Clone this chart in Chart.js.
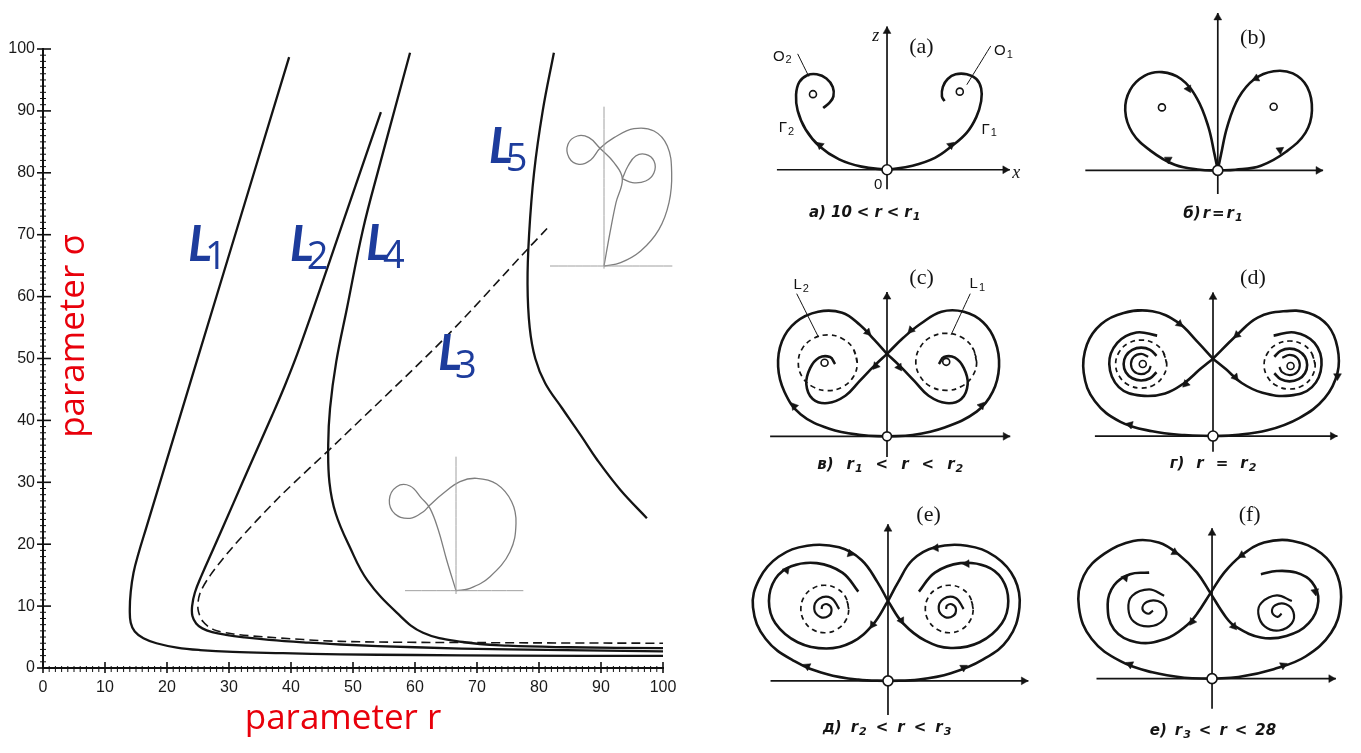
<!DOCTYPE html>
<html>
<head>
<meta charset="utf-8">
<title>Lorenz system: bifurcation curves and phase portraits</title>
<script src="https://cdn.jsdelivr.net/npm/chart.js@4.4.1/dist/chart.umd.min.js"></script>
<style>
  html, body { margin: 0; padding: 0; background: #fff; }
  body { position: relative; width: 1361px; height: 753px; overflow: hidden; }
  canvas { position: absolute; }
</style>
</head>
<body>
<canvas id="main" width="700" height="753" style="left:0;top:0"></canvas>
<canvas id="insetTop" width="360" height="340" style="left:330px;top:30px"></canvas>
<canvas id="insetLow" width="340" height="380" style="left:330px;top:360px"></canvas>
<canvas id="pa" width="310" height="240" style="left:740px;top:0"></canvas>
<canvas id="pb" width="311" height="240" style="left:1050px;top:0"></canvas>
<canvas id="pc" width="310" height="250" style="left:740px;top:240px"></canvas>
<canvas id="pd" width="311" height="250" style="left:1050px;top:240px"></canvas>
<canvas id="pe" width="310" height="263" style="left:740px;top:490px"></canvas>
<canvas id="pf" width="311" height="263" style="left:1050px;top:490px"></canvas>
<script>
// ---------- (r, sigma) plane ----------
const curveL1 = [[39.7,98.7],[28,60.1],[20,33.7],[16.7,22.8],[15.4,18.5],[14.6,15.4],[14.15,12.3],[14,9.5],[14.15,7.3],[14.8,5.9],[16.2,4.8],[18.3,4.0],[21.6,3.3],[25.3,2.9],[30.6,2.6],[38.7,2.4],[48,2.2],[60,2.1],[75,2.0],[100,1.95]];
const curveL2 = [[54.5,89.8],[50.4,77.9],[46.3,65.9],[43.2,56.9],[41,50.7],[39,45.6],[37,40.9],[33.5,33],[30.7,26.6],[27.5,19.3],[25.6,15],[24.5,12.2],[24.05,10],[24.1,8.4],[24.7,7.2],[25.7,6.4],[27.3,5.8],[29.5,5.35],[32.5,4.95],[36.5,4.55],[42,4.15],[48,3.8],[60,3.35],[75,3.0],[100,2.7]];
const curveL3 = [[81.3,71],[78,67.5],[65,53.5],[48,37],[38,27.5],[31,20],[27,15],[25.3,12],[25,9.5],[25.8,7.5],[27.5,6.2],[30.7,5.5],[36,5],[48,4.3],[70,4.1],[100,4.0]];
const curveL4 = [[59.2,99.4],[56.8,90.5],[54.4,81.6],[51.6,70.8],[49,58],[47.3,49.5],[46.3,42],[46,36],[46.2,30],[47.2,25],[49.5,19.5],[52.3,14.2],[57.1,8.9],[61.3,5.7],[67.7,4.2],[75,3.6],[85,3.35],[100,3.2]];
const curveL5 = [[82.4,99.4],[80.6,90],[79.2,80],[78.4,70],[78.15,62],[78.5,55],[79.4,50],[81,46],[83.7,42],[86.8,37.5],[89.4,33.6],[93.1,28.8],[97.4,24.2]];
// label index, r, sigma (glyph baseline)
const curveTags = [['1',23.4,65.75],['2',39.8,65.75],['4',52.1,65.9],['5',71.9,81.6],['3',63.7,48.1]];

// ---------- small sketches inside the plane (units: 1/3 px, origin at O) ----------
const upAxisV = [[0,-8],[0,478]];
const upAxisH = [[-162,0],[205,0]];
const upPath = [[0,0],[18,100],[36,190],[55,262],[30,310],[-12,353],[-45,385],[-80,390],[-108,365],[-105,325],[-75,305],[-40,318],[-12,353],[30,385],[90,412],[150,405],[190,360],[203,280],[195,190],[165,110],[110,45],[50,10],[0,0]];
const upLoop = [[55,262],[85,250],[125,255],[150,280],[150,315],[125,335],[95,330],[72,300],[55,262]];
const lowAxisV = [[0,-10],[0,402]];
const lowAxisH = [[-153,0],[202,0]];
const lowPath = [[0,0],[-28,92],[-53,182],[-78,247],[-103,277],[-138,314],[-178,312],[-200,272],[-183,230],[-138,217],[-98,237],[-78,257],[-38,292],[12,327],[62,337],[122,320],[167,267],[180,202],[162,117],[102,42],[42,7],[0,0]];

// ---------- phase portraits (x, z), units 1/3 px, origin at O ----------
// arrows: [x, z, heading in degrees clockwise from up]
// texts: [string, x, z, style, word gap]; "_c" sets c as a subscript
const aAxisX = [[-345,0],[385,0]];
const aAxisZ = [[0,-62],[0,455]];
const aGamma1 = [[0,0],[80,13],[150,38],[200,73],[250,118],[280,168],[295,218],[295,258],[280,288],[250,303],[215,303],[190,288],[175,263],[172,233],[180,218]];
const aGamma2 = [[0,0],[-80,10],[-150,33],[-210,73],[-255,128],[-280,188],[-285,238],[-275,278],[-250,300],[-220,303],[-190,290],[-170,263],[-168,233],[-180,213],[-200,196]];
const aLeader1 = [[325,393],[250,270]];
const aLeader2 = [[-280,368],[-245,296]];
const aArrows = [[370,0,90],[0,440,0],[200,78,50],[-210,78,310]];
const aFoci = [[228,248],[-232,240]];
const aTexts = [['z',-35,423,'it'],['x',405,-12,'it'],['0',-28,-47,'lab'],['O_2',-328,360,'lab'],['O_1',365,378,'lab'],['Γ_2',-315,133,'lab'],['Γ_1',320,128,'lab'],['(a)',108,388,'tag'],['а) 10 < r < r_1',-70,-137,'cap',5]];

const bAxisX = [[-415,0],[330,0]];
const bAxisZ = [[0,-75],[0,500]];
const bLoopR = [[0,0],[10,50],[30,140],[65,230],[115,290],[175,315],[235,308],[280,265],[295,190],[275,120],[215,60],[135,15],[55,2],[0,0]];
const bLoopL = [[0,0],[-10,50],[-30,140],[-65,228],[-115,290],[-175,312],[-230,300],[-275,255],[-290,190],[-268,120],[-210,62],[-135,18],[-55,2],[0,0]];
const bArrows = [[315,0,90],[0,485,0],[120,292,245],[195,65,55],[-92,259,150],[-155,35,300]];
const bFoci = [[-175,200],[175,202]];
const bTexts = [['(b)',110,420,'tag'],['б) r = r_1',-15,-140,'cap',2]];

const cAxisX = [[-365,0],[385,0]];
const cAxisZ = [[0,-65],[0,455]];
const cOuterR = [[0,0],[80,4],[180,28],[280,78],[330,140],[350,220],[338,300],[300,360],[240,393],[170,393],[105,355],[50,310],[0,260]];
const cOuterL = [[0,0],[-80,4],[-180,24],[-270,70],[-320,140],[-340,220],[-328,300],[-285,360],[-215,393],[-140,390],[-85,352],[-40,305],[0,260]];
const cInnerL = [[0,260],[-40,222],[-85,175],[-130,128],[-185,105],[-232,118],[-252,165],[-240,215],[-212,248],[-178,250],[-162,228]];
const cInnerR = [[0,260],[40,222],[85,175],[130,128],[185,105],[232,118],[252,165],[240,215],[212,248],[178,250],[162,228]];
const cCycleL = [[-93,232],[-105,276],[-139,308],[-185,320],[-231,308],[-265,276],[-277,232],[-265,188],[-231,156],[-185,144],[-139,156],[-105,188],[-93,232],[-105,276]];
const cCycleR = [[280,235],[267,280],[232,313],[185,325],[137,313],[103,280],[90,235],[103,190],[137,157],[185,145],[232,157],[267,190],[280,235],[267,280]];
const cLeader1 = [[260,450],[200,320]];
const cLeader2 = [[-282,450],[-215,315]];
const cArrows = [[370,0,90],[0,440,0],[295,97,40],[75,335,225],[-60,328,135],[-35,222,220],[38,218,145],[-290,95,320]];
const cFoci = [[-195,232],[185,235]];
const cTexts = [['L_2',-268,478,'lab'],['L_1',282,480,'lab'],['(c)',108,500,'tag'],['в) r_1 < r < r_2',10,-90,'cap',13]];

const dAxisX = [[-370,0],[390,0]];
const dAxisZ = [[0,-50],[0,455]];
const dOuterR = [[0,0],[70,3],[170,18],[270,57],[350,120],[390,200],[390,280],[360,350],[300,390],[220,395],[140,375],[75,320],[0,245]];
const dOuterL = [[0,0],[-90,3],[-190,15],[-290,45],[-370,110],[-405,200],[-395,290],[-350,355],[-280,390],[-190,395],[-110,360],[-50,300],[0,245]];
const dInnerL = [[0,245],[-40,212],[-90,168],[-150,135],[-225,128],[-295,155],[-325,228],[-300,295],[-240,328],[-175,318]];
const dInnerR = [[0,245],[40,212],[90,168],[155,137],[240,128],[310,155],[340,225],[318,295],[255,328],[190,318]];
const dCycleL = [[-145,228],[-156,266],[-185,294],[-225,304],[-265,294],[-294,266],[-305,228],[-294,190],[-265,162],[-225,152],[-185,162],[-156,190],[-145,228],[-156,266]];
const dCycleR = [[320,225],[309,263],[280,291],[240,301],[200,291],[171,263],[160,225],[171,187],[200,159],[240,149],[280,159],[309,187],[320,225],[309,263]];
const dArcL = [[-177,254],[-197,273],[-225,280],[-253,273],[-273,254],[-280,228],[-273,202],[-253,183],[-225,176],[-197,183],[-177,202]];
const dArcR = [[192,251],[212,270],[240,277],[268,270],[288,251],[295,225],[288,199],[268,180],[240,173],[212,180],[192,199]];
const dCurlL = [[-203,251],[-225,260],[-248,251],[-257,228],[-248,205],[-225,196],[-203,205],[-195,222]];
const dCurlR = [[217,248],[240,257],[263,248],[272,225],[263,202],[240,193],[217,202],[208,219]];
const dArrows = [[375,0,90],[0,440,0],[-105,355,130],[75,320,230],[-85,165,225],[70,186,140],[-260,36,285],[390,190,180]];
const dFoci = [[-220,228],[243,222]];
const dTexts = [['(d)',125,500,'tag'],['г) r = r_2',0,-90,'cap',12]];

const eAxisX = [[-368,0],[440,0]];
const eAxisZ = [[0,-108],[0,495]];
const eOuterL = [[0,0],[-93,4],[-193,22],[-293,62],[-383,132],[-423,232],[-403,322],[-343,392],[-253,427],[-153,422],[-83,382],[-33,312],[0,252]];
const eOuterR = [[0,0],[97,4],[197,24],[297,67],[377,132],[412,232],[397,322],[337,392],[247,427],[147,422],[77,382],[32,312],[0,252]];
const eInnerL = [[0,252],[-48,177],[-113,122],[-193,102],[-283,122],[-353,182],[-373,252],[-353,322],[-303,362],[-223,372],[-143,342],[-93,282]];
const eInnerR = [[0,252],[47,182],[117,127],[197,104],[287,122],[357,182],[377,252],[357,322],[307,362],[227,372],[147,342],[97,282]];
const eCycleL = [[-123,227],[-133,265],[-161,292],[-198,302],[-236,292],[-263,265],[-273,227],[-263,190],[-236,162],[-198,152],[-161,162],[-133,190],[-123,227],[-133,265]];
const eCycleR = [[267,227],[257,265],[230,292],[192,302],[155,292],[127,265],[117,227],[127,190],[155,162],[192,152],[230,162],[257,190],[267,227],[257,265]];
const eSpiralL = [[-153,227],[-178,262],[-216,259],[-231,227],[-212,202],[-186,205],[-177,227],[-190,242],[-205,238],[-208,227]];
const eSpiralR = [[237,227],[212,262],[174,259],[159,227],[178,202],[204,205],[213,227],[200,242],[185,238],[182,227]];
const eArrows = [[425,0,90],[0,480,0],[-118,402,105],[-253,46,295],[150,420,265],[237,42,60],[-48,177,215],[42,190,150],[-318,350,40],[247,370,268]];
const eTexts = [['(e)',127,522,'tag'],['д) r_2 < r < r_3',-3,-148,'cap',9]];

const fAxisX = [[-362,0],[388,0]];
const fAxisZ = [[0,-95],[0,475]];
const fOuterL = [[0,0],[-87,3],[-187,20],[-287,55],[-377,125],[-417,225],[-402,325],[-337,395],[-247,435],[-167,430],[-102,390],[-47,335],[-5,270]];
const fOuterR = [[0,0],[83,5],[193,30],[293,70],[373,145],[403,235],[393,325],[343,395],[253,435],[163,430],[93,390],[38,335],[-5,270]];
const fInnerL = [[-5,270],[-47,205],[-77,170],[-147,125],[-237,115],[-307,155],[-327,235],[-307,295],[-257,330],[-197,335]];
const fInnerR = [[-5,270],[43,195],[73,165],[153,130],[233,135],[303,175],[333,245],[313,305],[263,335],[203,340],[153,330]];
const fSpiralL = [[-150,262],[-197,282],[-250,262],[-262,220],[-245,180],[-197,165],[-152,185],[-145,222],[-170,245],[-205,242],[-218,220],[-200,205],[-185,215]];
const fSpiralR = [[250,245],[203,263],[155,240],[145,205],[165,165],[210,152],[250,175],[255,210],[232,235],[198,232],[188,210],[205,195],[218,205]];
const fArrows = [[373,0,90],[0,460,0],[-117,399,120],[-257,45,295],[93,390,240],[223,42,65],[-62,180,215],[68,165,140],[-272,319,40],[323,275,170]];
const fTexts = [['(f)',118,515,'tag'],['е) r_3 < r < 28',3,-165,'cap',8]];

// ---------- styling ----------
const INK = '#141414';
const GREY = '#7e7e7e';
const RED = '#e8000b';
const BLUE = '#1d3c9c';
const STYLES = {
  it:  { font: 'italic 18px "Liberation Serif"', sub: 'italic 13px "Liberation Serif"', gap: 4 },
  lab: { font: '15px "Liberation Sans"', sub: '11px "Liberation Sans"', gap: 4 },
  tag: { font: '22px "Liberation Serif"', sub: '16px "Liberation Serif"', gap: 5 },
  cap: { font: 'italic bold 15px "DejaVu Sans"', sub: 'italic bold 11px "DejaVu Sans"', gap: 7 }
};

const pts = a => a.map(([x, y]) => ({ x, y }));

function stroke(a, w, opt = {}) {
  return {
    data: pts(a), showLine: true, tension: opt.tension ?? 0.4,
    borderColor: opt.color || INK, borderWidth: w, borderDash: opt.dash || [],
    pointRadius: 0, fill: false
  };
}
function heads(a, r = 4.5) {
  return {
    data: pts(a), showLine: false, pointStyle: 'triangle',
    pointRotation: a.map(p => p[2]), pointRadius: r,
    pointBackgroundColor: INK, pointBorderColor: INK, pointBorderWidth: 0.5
  };
}
function dots(a, r) {
  return {
    data: pts(a), showLine: false, pointStyle: 'circle', pointRadius: r,
    pointBackgroundColor: '#fff', pointBorderColor: INK, pointBorderWidth: 1.6
  };
}

// text with "_c" subscripts and a fixed word gap, centred on (cx, cy)
function drawRich(ctx, str, cx, cy, st, gap) {
  const runs = [];
  for (let i = 0; i < str.length; i++) {
    const ch = str[i];
    if (ch === '_') { runs.push({ t: str[++i], sub: true }); continue; }
    if (ch === ' ') { runs.push({ gap: true }); continue; }
    const last = runs[runs.length - 1];
    if (last && !last.sub && !last.gap) last.t += ch; else runs.push({ t: ch });
  }
  const g = gap ?? st.gap;
  let total = 0;
  for (const r of runs) {
    if (r.gap) { r.w = g; } else { ctx.font = r.sub ? st.sub : st.font; r.w = ctx.measureText(r.t).width + (r.sub ? 1 : 0); }
    total += r.w;
  }
  let x = cx - total / 2;
  ctx.textAlign = 'left';
  ctx.textBaseline = 'middle';
  for (const r of runs) {
    if (!r.gap) {
      ctx.font = r.sub ? st.sub : st.font;
      ctx.fillText(r.t, x + (r.sub ? 1 : 0), cy + (r.sub ? 4 : 0));
    }
    x += r.w;
  }
}

// ---------- main plane ----------
const planeDecor = {
  id: 'planeDecor',
  afterDatasetsDraw(chart) {
    const { ctx, scales: { x, y } } = chart;
    ctx.save();
    ctx.fillStyle = BLUE;
    ctx.textBaseline = 'alphabetic';
    ctx.textAlign = 'left';
    for (const [n, r, s] of curveTags) {
      const px = x.getPixelForValue(r), py = y.getPixelForValue(s);
      ctx.font = 'italic bold 50px Lato';
      ctx.fillText('L', px, py);
      ctx.font = '38px "Open Sans"';
      ctx.fillText(n, px + 17, py + 8);
    }
    ctx.restore();
  },
  afterDraw(chart) {
    const { ctx, chartArea: a, scales: { x, y } } = chart;
    ctx.save();
    ctx.strokeStyle = '#111';
    for (let v = 0; v <= 100; v++) {
      const major = v % 10 === 0;
      ctx.lineWidth = major ? 1.6 : 1;
      const px = x.getPixelForValue(v);
      ctx.beginPath();
      ctx.moveTo(px, a.bottom - (major ? 6 : 2));
      ctx.lineTo(px, a.bottom + (major ? 5 : 4));
      ctx.stroke();
      const py = y.getPixelForValue(v);
      ctx.beginPath();
      ctx.moveTo(a.left - (major ? 6 : 3), py);
      ctx.lineTo(a.left + (major ? 8 : 3), py);
      ctx.stroke();
    }
    ctx.fillStyle = RED;
    ctx.font = '35px "Open Sans"';
    ctx.textAlign = 'center';
    ctx.textBaseline = 'alphabetic';
    ctx.fillText('parameter r', a.left + 300, a.bottom + 61);
    ctx.translate(a.left + 41, a.top + 287);
    ctx.rotate(-Math.PI / 2);
    ctx.fillText('parameter σ', 0, 0);
    ctx.restore();
  }
};

const tickFont = { family: '"Liberation Sans"', size: 16 };

new Chart(document.getElementById('main'), {
  type: 'scatter',
  data: {
    datasets: [
      stroke(curveL1, 2.3),
      stroke(curveL2, 2.3),
      stroke(curveL4, 2.3),
      stroke(curveL5, 2.3),
      stroke(curveL3, 1.6, { tension: 0.3, dash: [9, 5] })
    ]
  },
  options: {
    responsive: false, animation: false, events: [],
    layout: { padding: { top: 49, right: 37, left: 0, bottom: 0 } },
    plugins: { legend: { display: false }, tooltip: { enabled: false } },
    scales: {
      x: {
        type: 'linear', min: 0, max: 100,
        afterFit: s => { s.height = 85; },
        grid: { display: false, drawTicks: false },
        border: { color: '#111', width: 2 },
        ticks: { stepSize: 10, color: '#1a1a1a', font: tickFont, padding: 10 }
      },
      y: {
        type: 'linear', min: 0, max: 100,
        afterFit: s => { s.width = 43; },
        grid: { display: false, drawTicks: false },
        border: { color: '#111', width: 2 },
        ticks: { stepSize: 10, color: '#1a1a1a', font: tickFont, padding: 8 }
      }
    }
  },
  plugins: [planeDecor]
});

// ---------- sketches ----------
const sketchText = {
  id: 'sketchText',
  afterDatasetsDraw(chart, args, opts) {
    const { ctx, scales: { x, y } } = chart;
    ctx.save();
    ctx.fillStyle = INK;
    for (const [t, tx, tz, kind, gap] of opts.items || []) {
      drawRich(ctx, t, x.getPixelForValue(tx), y.getPixelForValue(tz), STYLES[kind], gap);
    }
    ctx.restore();
  }
};

// frame: canvas size in px and origin position in 1/3-px units
function sketch(id, f, datasets, items = []) {
  return new Chart(document.getElementById(id), {
    type: 'scatter',
    data: { datasets },
    options: {
      responsive: false, animation: false, events: [],
      layout: { padding: 0 },
      plugins: { legend: { display: false }, tooltip: { enabled: false }, sketchText: { items } },
      scales: {
        x: { type: 'linear', display: false, min: -f.ox, max: f.w * 3 - f.ox },
        y: { type: 'linear', display: false, min: f.oy - f.h * 3, max: f.oy }
      }
    },
    plugins: [sketchText]
  });
}

const axisW = 1.7, curveW = 2.6, cycleW = 1.7, cycleDash = [5, 4];

sketch('insetTop', { w: 360, h: 340, ox: 822, oy: 708 }, [
  stroke(upAxisV, 1, { color: '#a0a0a0' }),
  stroke(upAxisH, 1, { color: '#a0a0a0' }),
  stroke(upPath, 1.3, { color: GREY }),
  stroke(upLoop, 1.3, { color: GREY })
]);
sketch('insetLow', { w: 340, h: 380, ox: 378, oy: 692 }, [
  stroke(lowAxisV, 1, { color: '#a0a0a0' }),
  stroke(lowAxisH, 1, { color: '#a0a0a0' }),
  stroke(lowPath, 1.3, { color: GREY })
]);

sketch('pa', { w: 310, h: 240, ox: 440, oy: 518 }, [
  dots([[0,0]], 5), dots(aFoci, 3.5), heads(aArrows),
  stroke(aAxisX, axisW), stroke(aAxisZ, axisW),
  stroke(aGamma1, curveW), stroke(aGamma2, curveW),
  stroke(aLeader1, 1), stroke(aLeader2, 1)
], aTexts);

sketch('pb', { w: 311, h: 240, ox: 505, oy: 520 }, [
  dots([[0,0]], 5), dots(bFoci, 3.5), heads(bArrows),
  stroke(bAxisX, axisW), stroke(bAxisZ, axisW),
  stroke(bLoopR, curveW), stroke(bLoopL, curveW)
], bTexts);

sketch('pc', { w: 310, h: 250, ox: 440, oy: 600 }, [
  dots([[0,0]], 4.5), dots(cFoci, 3.5), heads(cArrows),
  stroke(cAxisX, axisW), stroke(cAxisZ, axisW),
  stroke(cOuterR, curveW), stroke(cOuterL, curveW),
  stroke(cInnerL, curveW), stroke(cInnerR, curveW),
  stroke(cCycleL, cycleW, { dash: cycleDash }), stroke(cCycleR, cycleW, { dash: cycleDash }),
  stroke(cLeader1, 1), stroke(cLeader2, 1)
], cTexts);

sketch('pd', { w: 311, h: 250, ox: 490, oy: 600 }, [
  dots([[0,0]], 5), dots(dFoci, 3.5), heads(dArrows),
  stroke(dAxisX, axisW), stroke(dAxisZ, axisW),
  stroke(dOuterR, curveW), stroke(dOuterL, curveW),
  stroke(dInnerL, curveW), stroke(dInnerR, curveW),
  stroke(dCycleL, cycleW, { dash: cycleDash }), stroke(dCycleR, cycleW, { dash: cycleDash }),
  stroke(dArcL, curveW), stroke(dArcR, curveW),
  stroke(dCurlL, 2.2), stroke(dCurlR, 2.2)
], dTexts);

sketch('pe', { w: 310, h: 263, ox: 443, oy: 582 }, [
  dots([[0,0]], 5), heads(eArrows),
  stroke(eAxisX, axisW), stroke(eAxisZ, axisW),
  stroke(eOuterL, curveW), stroke(eOuterR, curveW),
  stroke(eInnerL, curveW), stroke(eInnerR, curveW),
  stroke(eCycleL, cycleW, { dash: cycleDash }), stroke(eCycleR, cycleW, { dash: cycleDash }),
  stroke(eSpiralL, 2.2), stroke(eSpiralR, 2.2)
], eTexts);

sketch('pf', { w: 311, h: 263, ox: 487, oy: 575 }, [
  dots([[0,0]], 5), heads(fArrows),
  stroke(fAxisX, axisW), stroke(fAxisZ, axisW),
  stroke(fOuterL, curveW), stroke(fOuterR, curveW),
  stroke(fInnerL, curveW), stroke(fInnerR, curveW),
  stroke(fSpiralL, 2.2), stroke(fSpiralR, 2.2)
], fTexts);
</script>
</body>
</html>
